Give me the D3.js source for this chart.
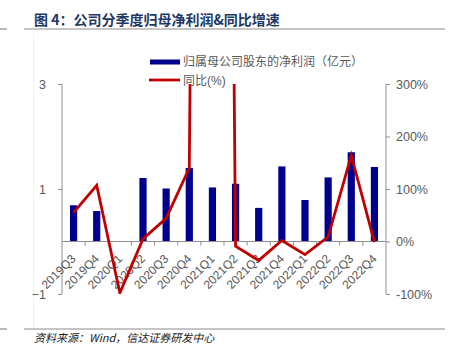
<!DOCTYPE html>
<html>
<head>
<meta charset="utf-8">
<script src="https://cdn.jsdelivr.net/npm/d3@7"></script>
<style>
  body { margin: 0; background: #fff; }
  text { font-family: Arial, "Liberation Sans", "Noto Sans CJK SC", sans-serif; }
</style>
</head>
<body>
<svg id="chart" width="452" height="364"></svg>
<script>
// quarterly net profit attributable to parent & yoy growth
var quarters = ['2019Q3', '2019Q4', '2020Q1', '2020Q2', '2020Q3', '2020Q4', '2021Q1',
                '2021Q2', '2021Q3', '2021Q4', '2022Q1', '2022Q2', '2022Q3', '2022Q4']
var profit = [0.69, 0.58, 0.01, 1.21, 1.01, 1.40, 1.03, 1.10, 0.64, 1.43, 0.79, 1.22, 1.70, 1.42] // 亿元
var yoy = [55, 107, -98, 5, 44, 140, 5000, -9, -36, 2, -25, 9, 164, -1] // %
var leftTicks = [-1, 1, 3]
var rightTicks = [-100, 0, 100, 200, 300]

// note: `top` is a reserved window property, so plot bounds get a prefix
var svg = d3.select('#chart')
  , plotL = 62, plotR = 386, plotT = 84, plotB = 294
  , gray = '#595959', axisColor = '#8f8f8f'

var x = d3.scaleBand().domain(quarters).range([plotL, plotR]).padding(0)
  , yL = d3.scaleLinear().domain([-1, 3]).range([plotB, plotT])
  , yR = d3.scaleLinear().domain([-100, 300]).range([plotB, plotT])

// title & rules
svg.append('text').attr('x', 34).attr('y', 25)
  .attr('font-size', 14).attr('font-weight', 'bold').attr('fill', '#1f3864')
  .style('font-family', '"Noto Sans CJK SC", sans-serif')
  .text('图 4：公司分季度归母净利润&同比增速')
;[29, 329].forEach(function(y) {
  svg.append('line').attr('x1', 24).attr('x2', 445).attr('y1', y).attr('y2', y)
    .attr('stroke', '#8c8c8c').attr('stroke-width', 1.2)
  svg.append('line').attr('x1', 0).attr('x2', 7).attr('y1', y).attr('y2', y)
    .attr('stroke', '#8c8c8c').attr('stroke-width', 1.2)
})
svg.append('line').attr('x1', 33.5).attr('x2', 33.5).attr('y1', 33).attr('y2', 328)
  .attr('stroke', '#f2f2f2')

svg.append('text').attr('x', 34).attr('y', 342)
  .attr('font-size', 11).attr('font-style', 'italic').attr('fill', '#222')
  .style('font-family', '"Noto Sans CJK SC", sans-serif')
  .text('资料来源：Wind，信达证券研发中心')

// bars
svg.append('g').selectAll('rect').data(profit).enter().append('rect')
  .attr('x', function(d, i) { return x(quarters[i]) + x.bandwidth() / 2 - 3.6 })
  .attr('width', 7.2)
  .attr('y', function(d) { return yL(Math.max(d, 0)) })
  .attr('height', function(d) { return Math.abs(yL(d) - yL(0)) })
  .attr('fill', '#00008f')

// axes
var axL = svg.append('g').attr('transform', 'translate(' + plotL + ',0)')
  .call(d3.axisLeft(yL).tickValues(leftTicks).tickSize(4).tickPadding(12).tickFormat(d3.format('d')))
var axR = svg.append('g').attr('transform', 'translate(' + plotR + ',0)')
  .call(d3.axisRight(yR).tickValues(rightTicks).tickSize(4).tickPadding(6).tickFormat(function(d) { return d + '%' }))
;[axL, axR].forEach(function(g) {
  g.select('.domain').attr('stroke', axisColor).attr('d', 'M0,' + plotT + 'V' + plotB)
  g.selectAll('.tick line').attr('stroke', axisColor)
  g.selectAll('.tick text').attr('fill', gray).attr('font-size', 12.5)
    .style('font-family', 'Arial, "Liberation Sans", sans-serif')
})

var y0 = yL(0)
svg.append('line').attr('x1', plotL).attr('x2', plotR).attr('y1', y0).attr('y2', y0)
  .attr('stroke', axisColor)
svg.append('g').selectAll('line').data(quarters.slice(1)).enter().append('line')
  .attr('x1', function(d) { return x(d) }).attr('x2', function(d) { return x(d) })
  .attr('y1', y0).attr('y2', y0 + 4).attr('stroke', axisColor)
svg.append('g').selectAll('text').data(quarters).enter().append('text')
  .attr('transform', function(d) {
    return 'translate(' + (x(d) + x.bandwidth() / 2 + 3) + ',' + (y0 + 18) + ') rotate(-45)'
  })
  .attr('text-anchor', 'end').attr('font-size', 12).attr('fill', gray)
  .text(function(d) { return d })

// yoy line, clipped to plot area
svg.append('clipPath').attr('id', 'plotclip').append('rect')
  .attr('x', plotL).attr('y', plotT).attr('width', plotR - plotL).attr('height', plotB - plotT)
svg.append('path').datum(yoy)
  .attr('clip-path', 'url(#plotclip)')
  .attr('fill', 'none').attr('stroke', '#c00000').attr('stroke-width', 2.8)
  .attr('stroke-linejoin', 'miter')
  .attr('d', d3.line()
    .x(function(d, i) { return x(quarters[i]) + x.bandwidth() / 2 })
    .y(function(d) { return yR(d) }))

// legend
var lg = svg.append('g').style('font-family', '"Noto Sans CJK SC", sans-serif')
lg.append('rect').attr('x', 150).attr('y', 59.5).attr('width', 30).attr('height', 5).attr('fill', '#00008f')
lg.append('text').attr('x', 183).attr('y', 66).attr('font-size', 12).attr('fill', gray)
  .text('归属母公司股东的净利润（亿元）')
lg.append('line').attr('x1', 149).attr('x2', 180).attr('y1', 80).attr('y2', 80)
  .attr('stroke', '#c00000').attr('stroke-width', 2.8)
lg.append('text').attr('x', 183).attr('y', 85).attr('font-size', 12).attr('fill', gray)
  .text('同比(%)')
</script>
</body>
</html>
